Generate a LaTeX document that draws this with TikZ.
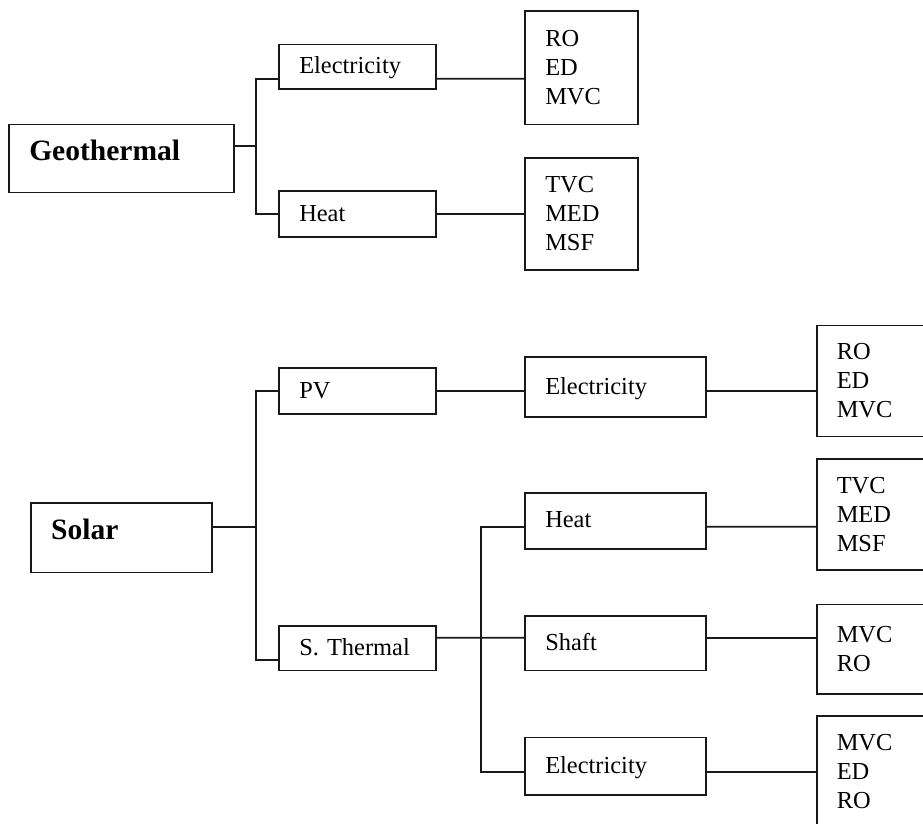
\documentclass[tikz,border=0pt]{standalone}
\usepackage{fontspec}
\setmainfont{Liberation Serif}
\usepackage{tikz}
\usetikzlibrary{positioning, calc}

\begin{document}
\begin{tikzpicture}[
    line width=1pt, draw=black!90,
    techbox/.style = {rectangle, draw=black!90, line width=1pt, align=left, inner xsep=0.4cm, inner ysep=0pt, font=\fontsize{13.9}{16.5}\selectfont},
    box/.style = {techbox, text height=1.0em, text depth=0.2em},
    source/.style = {techbox, text height=0.7em, text depth=0.45em, font=\bfseries\fontsize{16.8}{20}\selectfont}
]

% Frame
\useasboundingbox (0,0) rectangle (18.46,16.48);
\clip (0,0) rectangle (18.46,16.48);

% Geothermal
\node (geo_src) [source, text width=3.69cm, minimum height=1.36cm] at (2.43, 13.31) {Geothermal};
\node (geo_elec) [box, text width=2.33cm, minimum height=0.89cm] at (7.15, 15.146) {Electricity};
\node (geo_heat) [box, text width=2.33cm, minimum height=0.91cm] at (7.15, 12.2) {Heat};
\node (geo_ro) [techbox, text width=1.45cm, minimum height=2.27cm] at (11.63, 15.126) {RO\\ED\\MVC};
\node (geo_tvc) [techbox, text width=1.45cm, minimum height=2.25cm] at (11.63, 12.2) {TVC\\MED\\MSF};

% Solar
\node (sol_src) [source, text width=2.81cm, minimum height=1.39cm] at (2.43, 5.726) {Solar};
\node (sol_pv) [box, text width=2.33cm, minimum height=0.91cm] at (7.15, 8.66) {PV};
\node (sol_th) [box, text width=2.33cm, minimum height=0.89cm] at (7.15, 3.516) {S. Thermal};

\node (pv_elec) [box, text width=2.81cm, minimum height=1.19cm] at (12.31, 8.74) {Electricity};
\node (th_heat) [box, text width=2.81cm, minimum height=1.12cm] at (12.31, 6.066) {Heat};
\node (th_shaft) [box, text width=2.81cm, minimum height=1.09cm] at (12.31, 3.616) {Shaft};
\node (th_elec) [box, text width=2.81cm, minimum height=1.15cm] at (12.31, 1.156) {Electricity};

\node (pv_tech) [techbox, text width=1.45cm, minimum height=2.22cm] at (17.46, 8.86) {RO\\ED\\MVC};
\node (heat_tech) [techbox, text width=1.45cm, minimum height=2.22cm] at (17.46, 6.186) {TVC\\MED\\MSF};
\node (shaft_tech) [techbox, text width=1.45cm, minimum height=1.79cm] at (17.46, 3.496) {MVC\\RO};
\node (elec_tech) [techbox, text width=1.45cm, minimum height=2.22cm] at (17.46, 1.046) {MVC\\ED\\RO};

% Junctions
\coordinate (geo_split) at (5.114, 13.56);
\coordinate (sol_split) at (5.114, 5.946);
\coordinate (th_split) at (9.62, 3.726);

% Connections Geothermal
\draw ([yshift=0.25cm]geo_src.east) -- (geo_split);
\draw (geo_split) |- ([yshift=-0.24cm]geo_elec.west);
\draw (geo_split) |- (geo_heat.west);
\draw ([yshift=-0.24cm]geo_elec.east) -- ([yshift=-0.22cm]geo_ro.west);
\draw (geo_heat) -- (geo_tvc);

% Connections Solar
\draw ([yshift=0.22cm]sol_src.east) -- (sol_split);
\draw (sol_split) |- (sol_pv.west);
\draw (sol_split) |- ([yshift=-0.24cm]sol_th.west);
\draw (sol_pv.east) -- ([yshift=-0.08cm]pv_elec.west);
\draw ([yshift=-0.08cm]pv_elec.east) -- ([yshift=-0.2cm]pv_tech.west);

\draw ([yshift=0.21cm]sol_th.east) -- (th_split);
\draw (th_split) |- ([yshift=-0.12cm]th_heat.west);
\draw (th_split) -- ([yshift=0.11cm]th_shaft.west);
\draw (th_split) |- ([yshift=-0.11cm]th_elec.west);

\draw ([yshift=-0.12cm]th_heat.east) -- ([yshift=-0.24cm]heat_tech.west);
\draw ([yshift=0.11cm]th_shaft.east) -- ([yshift=0.23cm]shaft_tech.west);
\draw ([yshift=-0.11cm]th_elec.east) -- (elec_tech.west);

\end{tikzpicture}
\end{document}
